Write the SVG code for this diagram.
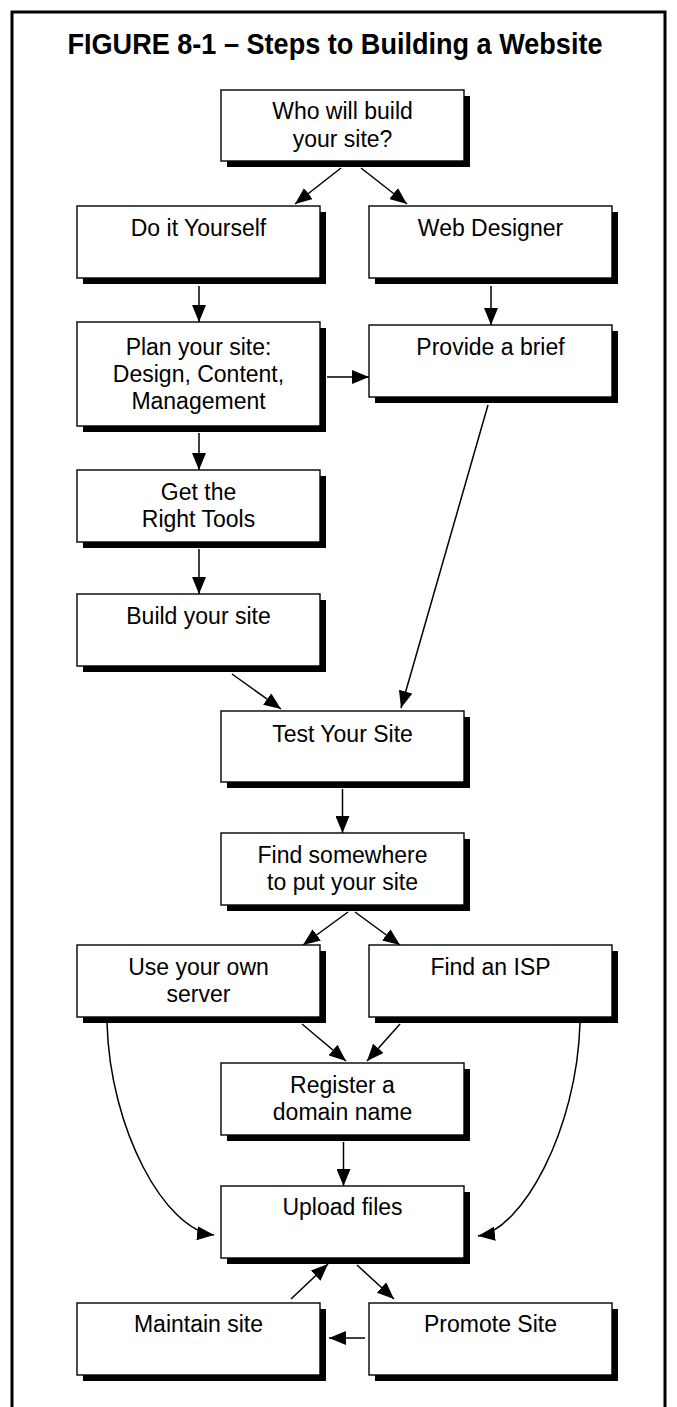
<svg xmlns="http://www.w3.org/2000/svg" width="677" height="1407" viewBox="0 0 677 1407">
<style>
.box{fill:#fff;stroke:#000;stroke-width:1.4}
.sh{fill:#000}
.t{font-family:"Liberation Sans",Arial,sans-serif;font-size:23px;fill:#000;text-anchor:middle}
.c{fill:none;stroke:#000;stroke-width:1.5;marker-end:url(#ah)}
</style>
<defs>
<marker id="ah" markerUnits="userSpaceOnUse" markerWidth="18" markerHeight="14" refX="17" refY="7" orient="auto">
<path d="M0,0 L17,7 L0,14 z" fill="#000"/>
</marker>
</defs>
<rect x="0" y="0" width="677" height="1407" fill="#fff"/>
<rect x="12" y="12" width="653" height="1420" fill="none" stroke="#000" stroke-width="3"/>
<text x="335" y="54" font-family="Liberation Sans,Arial,sans-serif" font-weight="bold" font-size="30" text-anchor="middle" textLength="535" lengthAdjust="spacingAndGlyphs">FIGURE 8-1 – Steps to Building a Website</text>

<g id="connectors">
<line class="c" x1="341" y1="168" x2="295" y2="204"/>
<line class="c" x1="361" y1="168" x2="407" y2="204"/>
<line class="c" x1="199" y1="286" x2="199" y2="322"/>
<line class="c" x1="491" y1="286" x2="491" y2="325"/>
<line class="c" x1="327" y1="377" x2="369" y2="377"/>
<line class="c" x1="199" y1="433" x2="199" y2="470"/>
<line class="c" x1="199" y1="549" x2="199" y2="594"/>
<line class="c" x1="232" y1="674" x2="281" y2="709"/>
<line class="c" x1="488" y1="405" x2="401" y2="708"/>
<line class="c" x1="342.5" y1="789" x2="342.5" y2="833"/>
<line class="c" x1="348" y1="912" x2="303" y2="945"/>
<line class="c" x1="355" y1="912" x2="400" y2="945"/>
<line class="c" x1="302" y1="1024" x2="346" y2="1061"/>
<line class="c" x1="400" y1="1024" x2="367" y2="1061"/>
<path class="c" d="M107,1023 C110,1130 165,1230 214,1235"/>
<path class="c" d="M580,1023 C577,1130 522,1230 478,1236"/>
<line class="c" x1="343.5" y1="1142" x2="343.5" y2="1186"/>
<line class="c" x1="291" y1="1299" x2="328" y2="1264"/>
<line class="c" x1="357" y1="1265" x2="394" y2="1299"/>
<line class="c" x1="365" y1="1338" x2="329" y2="1338"/>
</g>

<g id="who"><rect class="sh" x="227" y="96" width="243" height="71"/><rect class="box" x="221" y="90" width="243" height="71"/><text class="t" x="342.5" y="119">Who will build</text><text class="t" x="342.5" y="146.5">your site?</text></g>
<g id="diy"><rect class="sh" x="83" y="212" width="243" height="72"/><rect class="box" x="77" y="206" width="243" height="72"/><text class="t" x="198.5" y="236">Do it Yourself</text></g>
<g id="webdesigner"><rect class="sh" x="375" y="212" width="243" height="72"/><rect class="box" x="369" y="206" width="243" height="72"/><text class="t" x="490.5" y="236">Web Designer</text></g>
<g id="plan"><rect class="sh" x="83" y="328" width="243" height="104"/><rect class="box" x="77" y="322" width="243" height="104"/><text class="t" x="198.5" y="355">Plan your site:</text><text class="t" x="198.5" y="382">Design, Content,</text><text class="t" x="198.5" y="409">Management</text></g>
<g id="brief"><rect class="sh" x="375" y="331" width="243" height="72"/><rect class="box" x="369" y="325" width="243" height="72"/><text class="t" x="490.5" y="355">Provide a brief</text></g>
<g id="tools"><rect class="sh" x="83" y="476" width="243" height="72"/><rect class="box" x="77" y="470" width="243" height="72"/><text class="t" x="198.5" y="500">Get the</text><text class="t" x="198.5" y="527">Right Tools</text></g>
<g id="build"><rect class="sh" x="83" y="600" width="243" height="72"/><rect class="box" x="77" y="594" width="243" height="72"/><text class="t" x="198.5" y="624">Build your site</text></g>
<g id="test"><rect class="sh" x="227" y="717" width="243" height="71"/><rect class="box" x="221" y="711" width="243" height="71"/><text class="t" x="342.5" y="741.5">Test Your Site</text></g>
<g id="findsomewhere"><rect class="sh" x="227" y="839" width="243" height="72"/><rect class="box" x="221" y="833" width="243" height="72"/><text class="t" x="342.5" y="863">Find somewhere</text><text class="t" x="342.5" y="890">to put your site</text></g>
<g id="ownserver"><rect class="sh" x="83" y="951" width="243" height="72"/><rect class="box" x="77" y="945" width="243" height="72"/><text class="t" x="198.5" y="975">Use your own</text><text class="t" x="198.5" y="1002">server</text></g>
<g id="isp"><rect class="sh" x="375" y="951" width="243" height="72"/><rect class="box" x="369" y="945" width="243" height="72"/><text class="t" x="490.5" y="975">Find an ISP</text></g>
<g id="register"><rect class="sh" x="227" y="1069" width="243" height="72"/><rect class="box" x="221" y="1063" width="243" height="72"/><text class="t" x="342.5" y="1093">Register a</text><text class="t" x="342.5" y="1120">domain name</text></g>
<g id="upload"><rect class="sh" x="227" y="1192" width="243" height="72"/><rect class="box" x="221" y="1186" width="243" height="72"/><text class="t" x="342.5" y="1215">Upload files</text></g>
<g id="maintain"><rect class="sh" x="83" y="1309" width="243" height="72"/><rect class="box" x="77" y="1303" width="243" height="72"/><text class="t" x="198.5" y="1332">Maintain site</text></g>
<g id="promote"><rect class="sh" x="375" y="1309" width="243" height="72"/><rect class="box" x="369" y="1303" width="243" height="72"/><text class="t" x="490.5" y="1332">Promote Site</text></g>
</svg>
